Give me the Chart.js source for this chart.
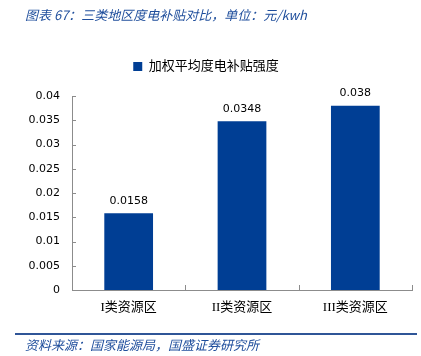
<!DOCTYPE html>
<html>
<head>
<meta charset="utf-8">
<script src="https://cdn.jsdelivr.net/npm/chart.js@4"></script>
<style>
  html, body { margin: 0; padding: 0; background: #fff; }
  #wrap { position: relative; width: 421px; height: 356px; overflow: hidden; }
  #c { position: absolute; left: 0; top: 0; }
  .t { position: absolute; font-family: "Noto Sans CJK SC", sans-serif; font-style: italic; color: #1F4E9C; white-space: nowrap; }
  #title { left: 25px; top: 6px; font-size: 13px; line-height: 18px; }
  #rule { position: absolute; left: 15px; top: 333px; width: 402px; height: 2px; background: #2F5597; }
  #foot { left: 25px; top: 336px; font-size: 13px; line-height: 18px; }
</style>
</head>
<body>
<div id="wrap">
  <canvas id="c" width="421" height="356"></canvas>
  <div class="t" id="title">图表 67：三类地区度电补贴对比，单位：元/kwh</div>
  <div id="rule"></div>
  <div class="t" id="foot">资料来源：国家能源局，国盛证券研究所</div>
</div>
<script>
const categories = ["I类资源区", "II类资源区", "III类资源区"];
const seriesName = "加权平均度电补贴强度";
const seriesValues = [0.0158, 0.0348, 0.038];
const yTickValues = [0, 0.005, 0.01, 0.015, 0.02, 0.025, 0.03, 0.035, 0.04];
const yTickLabels = ["0", "0.005", "0.01", "0.015", "0.02", "0.025", "0.03", "0.035", "0.04"];

const barColor = "#003E94";
const axisColor = "#8C8C8C";

const legendSpacer = {
  id: "legendSpacer",
  beforeInit(chart) {
    const origFit = chart.legend.fit;
    chart.legend.fit = function () {
      origFit.call(this);
      this.height += 13;
    };
  }
};

const innerTicks = {
  id: "innerTicks",
  afterDraw(chart) {
    const ctx = chart.ctx;
    const xs = chart.scales.x, ys = chart.scales.y;
    const area = chart.chartArea;
    ctx.save();
    ctx.strokeStyle = axisColor;
    ctx.lineWidth = 1;
    ctx.beginPath();
    ys.ticks.forEach((t, i) => {
      const y = Math.round(ys.getPixelForTick(i)) + 0.5;
      ctx.moveTo(area.left, y);
      ctx.lineTo(area.left + 4, y);
    });
    const n = xs.ticks.length;
    for (let i = 1; i <= n; i++) {
      const x = Math.round(xs.getPixelForValue(i - 0.5)) + 0.5;
      ctx.moveTo(x, area.bottom);
      ctx.lineTo(x, area.bottom - 5);
    }
    ctx.stroke();
    ctx.restore();
  }
};

const valueLabels = {
  id: "valueLabels",
  afterDatasetsDraw(chart) {
    const ctx = chart.ctx;
    ctx.save();
    ctx.font = "11px 'DejaVu Sans'";
    ctx.fillStyle = "#000";
    ctx.textAlign = "center";
    ctx.textBaseline = "bottom";
    chart.data.datasets.forEach((ds, di) => {
      chart.getDatasetMeta(di).data.forEach((bar, i) => {
        ctx.fillText(String(ds.data[i]), bar.x, bar.y - 7);
      });
    });
    ctx.restore();
  }
};

new Chart(document.getElementById("c"), {
  type: "bar",
  data: {
    labels: categories,
    datasets: [{
      label: seriesName,
      data: seriesValues,
      backgroundColor: barColor,
      borderWidth: 0,
      categoryPercentage: 1,
      barPercentage: 0.43
    }]
  },
  options: {
    responsive: false,
    animation: false,
    devicePixelRatio: 1,
    layout: { padding: { top: 48, right: 9, bottom: 36, left: 0 } },
    plugins: {
      legend: {
        display: true,
        position: "top",
        labels: {
          boxWidth: 9,
          boxHeight: 9,
          padding: 12,
          color: "#000",
          font: { family: "'Liberation Serif', 'Noto Sans CJK SC'", size: 13 }
        }
      },
      tooltip: { enabled: false },
      title: { display: false }
    },
    scales: {
      x: {
        grid: { display: false, drawTicks: false, tickLength: 0 },
        border: { display: true, color: axisColor },
        ticks: {
          color: "#000",
          padding: 10,
          font: { family: "'Liberation Serif', 'Noto Sans CJK SC'", size: 13 }
        },
        afterFit(s) { s.height = 30; }
      },
      y: {
        min: 0,
        max: 0.04,
        grid: { display: false, drawTicks: false, tickLength: 0 },
        border: { display: true, color: axisColor },
        afterBuildTicks(s) { s.ticks = yTickValues.map(v => ({ value: v })); },
        ticks: {
          color: "#000",
          padding: 12,
          font: { family: "'DejaVu Sans'", size: 11 },
          callback(v, i) { return yTickLabels[i]; }
        },
        afterFit(s) { s.width = 72; }
      }
    }
  },
  plugins: [legendSpacer, innerTicks, valueLabels]
});
</script>
</body>
</html>
